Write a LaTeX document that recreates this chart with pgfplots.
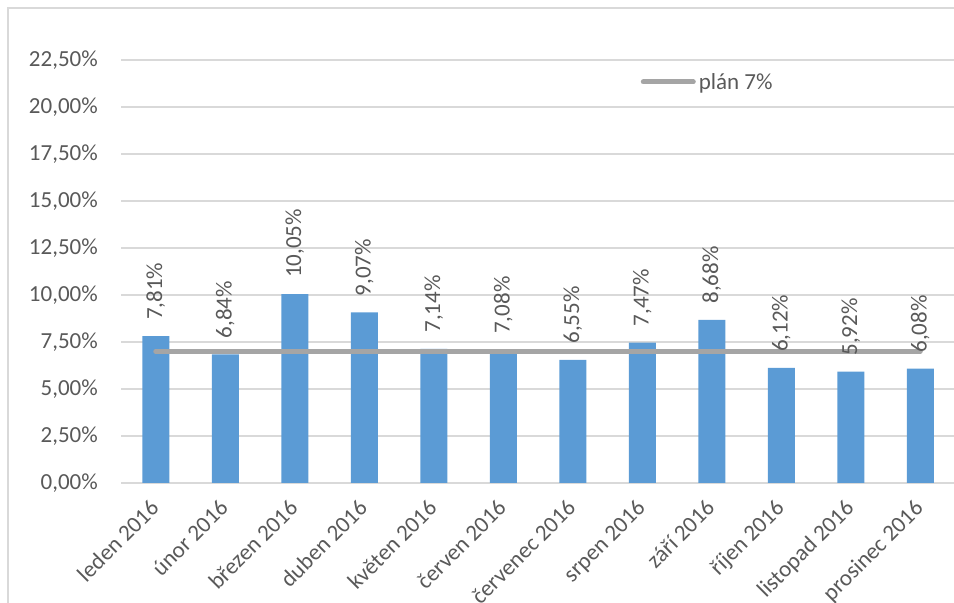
\documentclass[border=0pt]{standalone}
\usepackage{fontspec}
\setmainfont{Carlito}
\usepackage{pgfplots}
\pgfplotsset{compat=1.18}
\definecolor{barblue}{RGB}{91,155,213}
\definecolor{plangray}{RGB}{165,165,165}
\definecolor{gridgray}{RGB}{217,217,217}
\definecolor{txtgray}{RGB}{89,89,89}
\begin{document}
\begin{tikzpicture}[x=1bp,y=1bp]
\path[use as bounding box] (0,0) rectangle (954,603);
\draw[gridgray, line width=1.5bp] (8,0) -- (8,595) -- (954,595);
\begin{axis}[
  at={(121bp,120bp)}, anchor=south west,
  width=834bp, height=423bp, scale only axis,
  xmin=-0.5, xmax=11.5, ymin=0, ymax=22.5,
  axis x line*=bottom, axis y line*=left,
  y axis line style={draw=none},
  x axis line style={gridgray, line width=1.5bp, -},
  major tick length=0pt,
  ytick={0,2.5,5,7.5,10,12.5,15,17.5,20,22.5},
  yticklabels={{0,00\%},{2,50\%},{5,00\%},{7,50\%},{10,00\%},{12,50\%},{15,00\%},{17,50\%},{20,00\%},{22,50\%}},
  ymajorgrids, grid style={gridgray, line width=1.5bp},
  xtick={0,1,2,3,4,5,6,7,8,9,10,11},
  xticklabels={leden 2016, únor 2016, březen 2016, duben 2016, květen 2016, červen 2016, červenec 2016, srpen 2016, září 2016, říjen 2016, listopad 2016, prosinec 2016},
  tick label style={font=\fontsize{23bp}{27bp}\selectfont, text=txtgray},
  yticklabel style={anchor=east, inner sep=0pt, xshift=-23bp},
  xticklabel style={rotate=45, anchor=north east, inner sep=0pt, xshift=-15.6bp, yshift=-5.7bp},
  clip=false,
  legend style={at={(0.623,0.948)}, anchor=west, draw=none, fill=none, inner sep=0pt,
    font=\fontsize{23bp}{27bp}\selectfont, text=txtgray,
    nodes={inner sep=3bp}},
  legend image code/.code={\draw[#1] (0bp,0bp) -- (50bp,0bp);},
]
\addplot[ybar, bar width=27bp, fill=barblue, draw=none, forget plot,
  nodes near coords={\pgfmathprintnumber[fixed, fixed zerofill, precision=2, use comma, assume math mode=true]{\pgfplotspointmeta}\%},
  every node near coord/.append style={rotate=90, anchor=west, inner xsep=16bp, inner ysep=0pt,
    font=\fontsize{23bp}{27bp}\selectfont, text=txtgray}]
coordinates {(0,7.81) (1,6.84) (2,10.05) (3,9.07) (4,7.14) (5,7.08) (6,6.55) (7,7.47) (8,8.68) (9,6.12) (10,5.92) (11,6.08)};
\addplot[plangray, line width=5bp, line cap=round]
coordinates {(0,7) (1,7) (2,7) (3,7) (4,7) (5,7) (6,7) (7,7) (8,7) (9,7) (10,7) (11,7)};
\addlegendentry{plán 7\%}
\end{axis}
\end{tikzpicture}
\end{document}
